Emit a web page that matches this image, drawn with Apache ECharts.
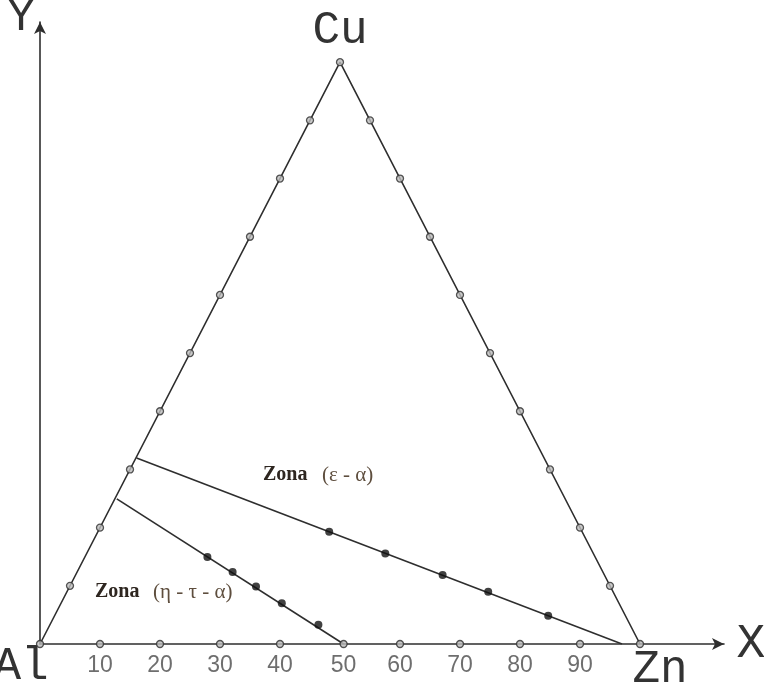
<!DOCTYPE html>
<html>
<head>
<meta charset="utf-8">
<script src="https://cdn.jsdelivr.net/npm/echarts@6/dist/echarts.min.js"></script>
<style>
html,body{margin:0;padding:0;background:#fff;}
#chart{width:764px;height:691px;}
</style>
</head>
<body>
<div id="chart"></div>
<script>
// Triangle vertices (Al, Cu, Zn)
const vertexNames = ['Al', 'Cu', 'Zn'];
const vertexX = [0, 50, 100];
const vertexY = [0, 97, 0];

// Hollow division marks on the left side (Al–Cu) and right side (Cu–Zn)
const leftSideX = [5, 10, 15, 20, 25, 30, 35, 40, 45];
const leftSideY = [9.7, 19.4, 29.1, 38.8, 48.5, 58.2, 67.9, 77.6, 87.3];
const rightSideX = [95, 90, 85, 80, 75, 70, 65, 60, 55];
const rightSideY = [9.7, 19.4, 29.1, 38.8, 48.5, 58.2, 67.9, 77.6, 87.3];

// Hollow marks on the base (Al–Zn) and their tick labels
const baseX = [10, 20, 30, 40, 50.6, 60, 70, 80, 90];
const baseY = [0, 0, 0, 0, 0, 0, 0, 0, 0];
const tickLabels = ['10', '20', '30', '40', '50', '60', '70', '80', '90'];

// Zone (ε - α) boundary line and its measured points
const epsLineX = [16.1, 97];
const epsLineY = [31.0, 0];
const epsPtsX = [48.2, 57.55, 67.1, 74.7, 84.7];
const epsPtsY = [18.7, 15.1, 11.5, 8.7, 4.7];

// Zone (η - τ - α) boundary line and its measured points
const etaLineX = [12.8, 50.6];
const etaLineY = [24.2, 0];
const etaPtsX = [27.9, 32.1, 36.0, 40.3, 46.4];
const etaPtsY = [14.5, 12.0, 9.6, 6.8, 3.2];

const zoneNames = ['Zona', 'Zona'];
const zoneTags = ['(ε - α)', '(η - τ - α)'];
const axisNames = ['X', 'Y'];

const zip = (xs, ys) => xs.map((x, i) => [x, ys[i]]);

const lineColor = '#2e2e2e';
const chart = echarts.init(document.getElementById('chart'));

const hollowStyle = { color: '#bdbdbd', borderColor: '#2e2e2e', borderWidth: 1.3 };

chart.setOption({
  animation: false,
  backgroundColor: '#fff',
  grid: { left: 40, right: 40, top: 22, bottom: 47, containLabel: false },
  xAxis: {
    type: 'value', min: 0, max: 114,
    axisLine: { show: true, symbol: ['none', 'arrow'], symbolSize: [9, 12], lineStyle: { color: lineColor, width: 1.6 } },
    axisTick: { show: false }, axisLabel: { show: false }, splitLine: { show: false }
  },
  yAxis: {
    type: 'value', min: 0, max: 103.7,
    axisLine: { show: true, symbol: ['none', 'arrow'], symbolSize: [9, 12], lineStyle: { color: lineColor, width: 1.6 } },
    axisTick: { show: false }, axisLabel: { show: false }, splitLine: { show: false }
  },
  series: [
    {
      type: 'line', data: zip(vertexX, vertexY), symbol: 'none',
      lineStyle: { color: lineColor, width: 1.6 }, z: 2
    },
    {
      type: 'line', data: zip(epsLineX, epsLineY), symbol: 'none',
      lineStyle: { color: lineColor, width: 1.6 }, z: 2
    },
    {
      type: 'line', data: zip(etaLineX, etaLineY), symbol: 'none',
      lineStyle: { color: lineColor, width: 1.6 }, z: 2
    },
    {
      type: 'scatter', symbolSize: 7, itemStyle: hollowStyle, z: 4,
      data: zip(vertexX, vertexY).concat(zip(leftSideX, leftSideY), zip(rightSideX, rightSideY))
    },
    {
      type: 'scatter', symbolSize: 7, itemStyle: hollowStyle, z: 4,
      data: zip(baseX, baseY),
      label: {
        show: true, position: 'bottom', distance: 6,
        formatter: p => tickLabels[p.dataIndex],
        fontFamily: 'Liberation Sans', fontSize: 23, color: '#4a4a4a'
      }
    },
    {
      type: 'scatter', symbolSize: 8, itemStyle: { color: '#111' }, z: 5,
      data: zip(epsPtsX, epsPtsY).concat(zip(etaPtsX, etaPtsY))
    }
  ],
  graphic: [
    { type: 'text', x: 340, y: 31, style: { text: vertexNames[1], font: '46px "Liberation Mono"', fill: '#333', align: 'center', verticalAlign: 'middle' } },
    { type: 'text', x: 21, y: 667, style: { text: vertexNames[0], font: '46px "Liberation Mono"', fill: '#333', align: 'center', verticalAlign: 'middle' } },
    { type: 'text', x: 660, y: 670, style: { text: vertexNames[2], font: '46px "Liberation Mono"', fill: '#333', align: 'center', verticalAlign: 'middle' } },
    { type: 'text', x: 751, y: 644, style: { text: axisNames[0], font: '48px "Liberation Mono"', fill: '#333', align: 'center', verticalAlign: 'middle' } },
    { type: 'text', x: 21, y: 18, style: { text: axisNames[1], font: '46px "Liberation Mono"', fill: '#333', align: 'center', verticalAlign: 'middle' } },
    { type: 'text', x: 263, y: 475, style: { text: zoneNames[0], font: 'bold 20px "Liberation Serif"', fill: '#2e2620', align: 'left', verticalAlign: 'middle' } },
    { type: 'text', x: 322, y: 475, style: { text: zoneTags[0], font: '21px "Liberation Serif"', fill: '#5e4e3e', align: 'left', verticalAlign: 'middle' } },
    { type: 'text', x: 95, y: 592, style: { text: zoneNames[1], font: 'bold 20px "Liberation Serif"', fill: '#2e2620', align: 'left', verticalAlign: 'middle' } },
    { type: 'text', x: 153, y: 592, style: { text: zoneTags[1], font: '21px "Liberation Serif"', fill: '#5e4e3e', align: 'left', verticalAlign: 'middle' } }
  ]
});
</script>
</body>
</html>
